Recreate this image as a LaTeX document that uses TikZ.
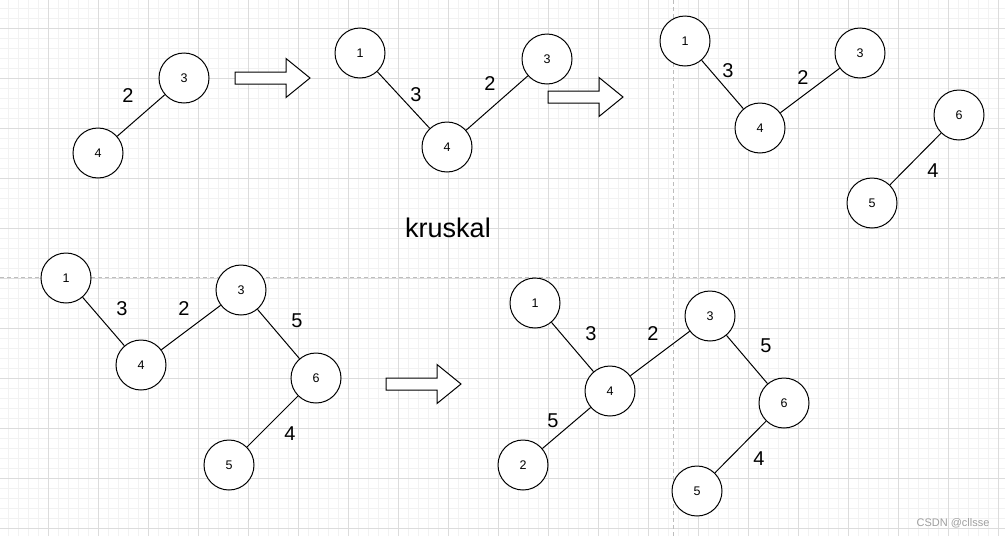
\documentclass[tikz,border=0pt]{standalone}
\usepackage{fontspec}
\setmainfont{Liberation Sans}
\definecolor{gridminor}{HTML}{F2F2F2}
\definecolor{gridmajor}{HTML}{DCDCDC}
\definecolor{pagebrk}{HTML}{BDBDBD}
\tikzset{
  vtx/.style={circle,draw,line width=1pt,minimum size=50pt,inner sep=0pt,fill=white,font=\fontsize{12.5}{14}\selectfont},
  wt/.style={inner sep=0pt,font=\fontsize{20}{22}\selectfont},
  barrow/.style={draw,line width=1pt,fill=white,line join=miter},
  edge/.style={line width=1pt}
}
\begin{document}
\begin{tikzpicture}[x=1pt,y=-1pt]
            \useasboundingbox (0,0) rectangle (1005,536);
            \fill[white] (0,0) rectangle (1005,536);
            % grid
            \foreach \gx in {8,18,...,998} \draw[gridminor,line width=0.8pt] (\gx,0) -- (\gx,536);
            \foreach \gy in {8,18,...,528} \draw[gridminor,line width=0.8pt] (0,\gy) -- (1005,\gy);
            \foreach \gx in {48,98,...,998} \draw[gridmajor,line width=0.8pt] (\gx,0) -- (\gx,536);
            \foreach \gy in {28,78,...,528} \draw[gridmajor,line width=0.8pt] (0,\gy) -- (1005,\gy);
            \draw[pagebrk,line width=0.8pt,dash pattern=on 4pt off 3pt] (673,0) -- (673,536);
            \draw[pagebrk,line width=0.8pt,dash pattern=on 4pt off 3pt] (0,277) -- (1005,277);
            % step arrows
            \foreach \ax/\ay in {235/78, 548/97, 386/384}
              \draw[barrow] (\ax,\ay-6) -- ++(51,0) -- ++(0,-13.5) -- (\ax+75,\ay) -- (\ax+51,\ay+19.5) -- ++(0,-13.5) -- (\ax,\ay+6) -- cycle;
            % step 1
            \node[vtx] (a3) at (184,78) {3};
            \node[vtx] (a4) at (98,153) {4};
            \draw[edge] (a4) -- (a3);
            \node[wt] (a34) at (128,96) {2};
            % step 2
            \node[vtx] (b1) at (360,53) {1};
            \node[vtx] (b4) at (447,147) {4};
            \node[vtx] (b3) at (547,59) {3};
            \draw[edge] (b1) -- (b4) -- (b3);
            \node[wt] (b14) at (416,95) {3};
            \node[wt] (b43) at (490,84) {2};
            % step 3
            \node[vtx] (c1) at (685,41) {1};
            \node[vtx] (c4) at (760,128) {4};
            \node[vtx] (c3) at (860,53) {3};
            \node[vtx] (c6) at (959,115) {6};
            \node[vtx] (c5) at (872,203) {5};
            \draw[edge] (c1) -- (c4) -- (c3);
            \draw[edge] (c5) -- (c6);
            \node[wt] (c14) at (728,71) {3};
            \node[wt] (c43) at (803,78) {2};
            \node[wt] (c56) at (933,171) {4};
            \node[font=\fontsize{27}{30}\selectfont] (title) at (448,228) {kruskal};
            % step 4
            \node[vtx] (d1) at (66,278) {1};
            \node[vtx] (d4) at (141,365) {4};
            \node[vtx] (d3) at (241,290) {3};
            \node[vtx] (d6) at (316,378) {6};
            \node[vtx] (d5) at (229,465) {5};
            \draw[edge] (d1) -- (d4) -- (d3) -- (d6) -- (d5);
            \node[wt] (d14) at (122,309) {3};
            \node[wt] (d43) at (184,309) {2};
            \node[wt] (d36) at (297,321) {5};
            \node[wt] (d65) at (290,434) {4};
            % step 5
            \node[vtx] (e1) at (535,303) {1};
            \node[vtx] (e4) at (610,391) {4};
            \node[vtx] (e3) at (710,316) {3};
            \node[vtx] (e6) at (784,403) {6};
            \node[vtx] (e2) at (523,465) {2};
            \node[vtx] (e5) at (697,491) {5};
            \draw[edge] (e1) -- (e4) -- (e3) -- (e6) -- (e5);
            \draw[edge] (e2) -- (e4);
            \node[wt] (e14) at (591,334) {3};
            \node[wt] (e43) at (653,334) {2};
            \node[wt] (e36) at (766,346) {5};
            \node[wt] (e65) at (759,459) {4};
            \node[wt] (e24) at (553,421) {5};
            \node[text=gray!75,font=\fontsize{11}{13}\selectfont] (mark) at (953,523) {CSDN @cllsse};
        \end{tikzpicture}
\end{document}
